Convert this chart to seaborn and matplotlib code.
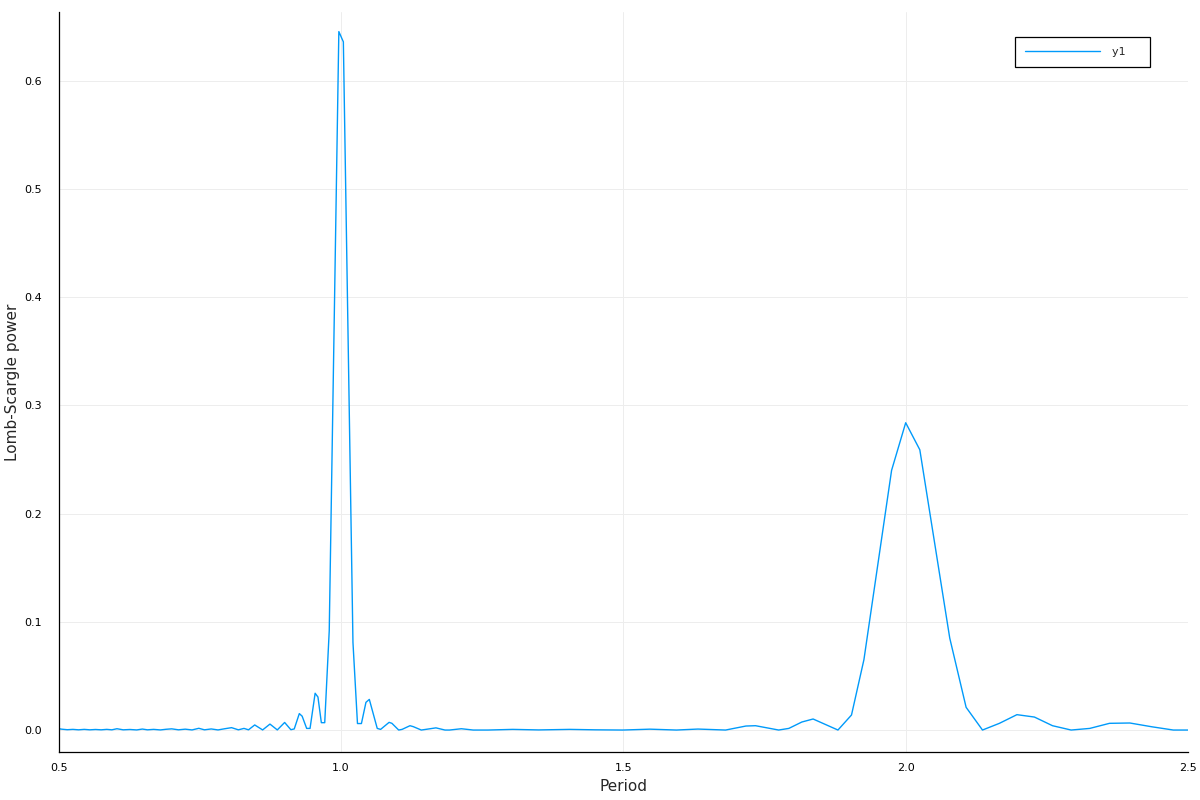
import pandas as pd
import matplotlib
matplotlib.use('Agg')
import matplotlib.pyplot as plt
import seaborn as sns

# Lomb-Scargle periodogram values
period = [0.500, 0.505, 0.515, 0.525, 0.535, 0.545, 0.555, 0.565, 0.575, 0.585,
          0.594, 0.603, 0.614, 0.626, 0.638, 0.648, 0.657, 0.668, 0.680, 0.690,
          0.700, 0.712, 0.724, 0.736, 0.748, 0.758, 0.770, 0.782, 0.794, 0.806,
          0.818, 0.828, 0.836, 0.847, 0.861, 0.874, 0.887, 0.900, 0.911, 0.917,
          0.926, 0.931, 0.939, 0.945, 0.954, 0.959, 0.965, 0.971, 0.979, 0.996,
          1.004, 1.021, 1.029, 1.036, 1.044, 1.050, 1.064, 1.070, 1.085, 1.090,
          1.102, 1.108, 1.122, 1.128, 1.142, 1.150, 1.168, 1.184, 1.192, 1.213,
          1.234, 1.260, 1.304, 1.350, 1.405, 1.450, 1.499, 1.547, 1.594, 1.632,
          1.681, 1.717, 1.734, 1.775, 1.793, 1.816, 1.836, 1.880, 1.904, 1.926,
          1.975, 2.000, 2.025, 2.078, 2.107, 2.136, 2.166, 2.197, 2.228, 2.260,
          2.293, 2.326, 2.361, 2.397, 2.436, 2.474, 2.500]
power = [0.0012, 0.0008, 0.0003, 0.0006, 0.0002, 0.0006, 0.0002, 0.0005, 0.0002, 0.0006,
         0.0002, 0.0012, 0.0002, 0.0005, 0.0001, 0.0009, 0.0002, 0.0006, 0.0001, 0.0007,
         0.0011, 0.0002, 0.0008, 0.0001, 0.0016, 0.0002, 0.0010, 0.0001, 0.0012, 0.0022,
         0.0002, 0.0015, 0.0002, 0.0047, 0.0001, 0.0055, 0.0001, 0.0070, 0.0003, 0.0010,
         0.0152, 0.0128, 0.0015, 0.0015, 0.0340, 0.0305, 0.0068, 0.0068, 0.0920, 0.6455,
         0.6360, 0.0810, 0.0060, 0.0060, 0.0256, 0.0283, 0.0015, 0.0006, 0.0071, 0.0062,
         0.0000, 0.0006, 0.0040, 0.0031, 0.0000, 0.0006, 0.0020, 0.0000, 0.0000, 0.0012,
         0.0000, 0.0000, 0.0006, 0.0001, 0.0006, 0.0002, 0.0000, 0.0008, 0.0000, 0.0009,
         0.0000, 0.0037, 0.0040, 0.0000, 0.0015, 0.0074, 0.0102, 0.0000, 0.0139, 0.0650,
         0.2400, 0.2840, 0.2590, 0.0850, 0.0210, 0.0000, 0.0062, 0.0142, 0.0120, 0.0040,
         0.0000, 0.0015, 0.0062, 0.0065, 0.0030, 0.0000, 0.0000]
xticks = [0.5, 1.0, 1.5, 2.0, 2.5]
yticks = [0.0, 0.1, 0.2, 0.3, 0.4, 0.5, 0.6]

df = pd.DataFrame({'Period': period, 'power': power})

sns.set_style('white')
plt.rcParams['font.family'] = ['DejaVu Sans']

fig = plt.figure(figsize=(12, 8), dpi=100)
ax = fig.add_axes([0.049, 0.06, 0.941, 0.925])

sns.lineplot(data=df, x='Period', y='power', color='#009AFA', linewidth=1.0,
             label='y1    ', ax=ax)

ax.set_xlim(0.5, 2.5)
ax.set_ylim(-0.0203, 0.6636)
ax.set_xticks(xticks)
ax.set_xticklabels([f'{t:.1f}' for t in xticks])
ax.set_yticks(yticks)
ax.set_yticklabels([f'{t:.1f}' for t in yticks])
ax.grid(True, color='#ededed', linewidth=0.7)
ax.tick_params(direction='in', length=3, width=0.8, labelsize=8, colors='black')
ax.tick_params(axis='y', pad=12)
ax.tick_params(axis='x', pad=8)
for s in ['top', 'right']:
    ax.spines[s].set_visible(False)
for s in ['left', 'bottom']:
    ax.spines[s].set_color('black')
    ax.spines[s].set_linewidth(0.9)

ax.set_xlabel('Period', fontsize=11, labelpad=4)
ax.set_ylabel('Lomb-Scargle power', fontsize=11, labelpad=3)

leg = ax.legend(loc='upper right', bbox_to_anchor=(0.9663, 0.966), fontsize=8,
                fancybox=False, edgecolor='black', framealpha=1, handlelength=6.8,
                borderpad=0.9, handletextpad=1.1, borderaxespad=0)
leg.get_frame().set_linewidth(0.9)

fig.savefig('out.png', dpi=100)
